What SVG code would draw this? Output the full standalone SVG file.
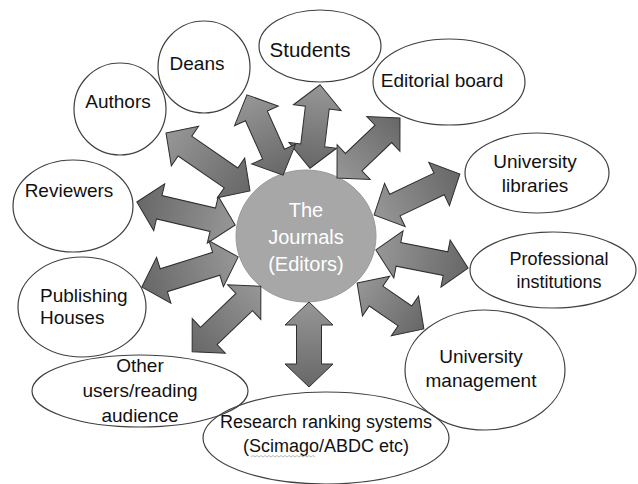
<svg xmlns="http://www.w3.org/2000/svg" width="638" height="484" viewBox="0 0 638 484">
<style>
.n{fill:none;stroke:#404040;stroke-width:1.2}
.t{font-family:"Liberation Sans",Arial,sans-serif;font-size:19px;fill:#111;text-anchor:middle}
.c{font-family:"Liberation Sans",Arial,sans-serif;font-size:20px;fill:#fff;text-anchor:middle}
.a{fill:url(#g);stroke:#2e2e2e;stroke-width:1;stroke-linejoin:miter}
</style>
<defs>
<linearGradient id="g" x1="0" y1="0" x2="1" y2="0">
<stop offset="0" stop-color="#979797"/>
<stop offset="1" stop-color="#676767"/>
</linearGradient>
</defs>
<rect width="638" height="484" fill="#fff"/>
<g id="center">
<ellipse cx="306" cy="236" rx="70" ry="66" fill="#a7a7a7" stroke="#9a9a9a" stroke-width="1"/>
<text class="c" x="306" y="217">The</text>
<text class="c" x="306" y="244">Journals</text>
<text class="c" x="306" y="271">(Editors)</text>
</g>
<g id="connectors">
<path class="a" transform="translate(315,126.5) rotate(96.9)" d="M-42,0 L-19,-24 L-19,-12 L19,-12 L19,-24 L42,0 L19,24 L19,12 L-19,12 L-19,24Z"/>
<path class="a" transform="translate(265,135) rotate(65.8)" d="M-44,0 L-21,-24 L-21,-12 L21,-12 L21,-24 L44,0 L21,24 L21,12 L-21,12 L-21,24Z"/>
<path class="a" transform="translate(208,162) rotate(34.6)" d="M-51,0 L-28,-24 L-28,-12 L28,-12 L28,-24 L51,0 L28,24 L28,12 L-28,12 L-28,24Z"/>
<path class="a" transform="translate(186,213.5) rotate(193.2)" d="M-50.5,0 L-27.5,-24 L-27.5,-12 L27.5,-12 L27.5,-24 L50.5,0 L27.5,24 L27.5,12 L-27.5,12 L-27.5,24Z"/>
<path class="a" transform="translate(190,272) rotate(162.6)" d="M-50.5,0 L-27.5,-24 L-27.5,-12 L27.5,-12 L27.5,-24 L50.5,0 L27.5,24 L27.5,12 L-27.5,12 L-27.5,24Z"/>
<path class="a" transform="translate(226.5,319) rotate(136.3)" d="M-47.5,0 L-24.5,-24 L-24.5,-12 L24.5,-12 L24.5,-24 L47.5,0 L24.5,24 L24.5,12 L-24.5,12 L-24.5,24Z"/>
<path class="a" transform="translate(309,344.5) rotate(90)" d="M-42.5,0 L-19.5,-24 L-19.5,-12.5 L19.5,-12.5 L19.5,-24 L42.5,0 L19.5,24 L19.5,12.5 L-19.5,12.5 L-19.5,24Z"/>
<path class="a" transform="translate(390.5,306) rotate(34.5)" d="M-40.5,0 L-17.5,-24 L-17.5,-12 L17.5,-12 L17.5,-24 L40.5,0 L17.5,24 L17.5,12 L-17.5,12 L-17.5,24Z"/>
<path class="a" transform="translate(422,259) rotate(11.1)" d="M-47,0 L-24,-24 L-24,-12 L24,-12 L24,-24 L47,0 L24,24 L24,12 L-24,12 L-24,24Z"/>
<path class="a" transform="translate(417,194.5) rotate(-25.5)" d="M-47.5,0 L-24.5,-24 L-24.5,-12 L24.5,-12 L24.5,-24 L47.5,0 L24.5,24 L24.5,12 L-24.5,12 L-24.5,24Z"/>
<path class="a" transform="translate(368.5,148) rotate(-43.6)" d="M-43.5,0 L-20.5,-24 L-20.5,-12 L20.5,-12 L20.5,-24 L43.5,0 L20.5,24 L20.5,12 L-20.5,12 L-20.5,24Z"/>
</g>
<g id="students">
<ellipse class="n" cx="320" cy="46" rx="61" ry="36"/>
<text class="t" x="310" y="57" style="font-size:20.5px">Students</text>
</g>
<g id="editorial-board">
<ellipse class="n" cx="449" cy="82" rx="76" ry="43"/>
<text class="t" x="442" y="87">Editorial board</text>
</g>
<g id="deans">
<ellipse class="n" cx="204" cy="67" rx="46" ry="46"/>
<text class="t" x="197" y="70">Deans</text>
</g>
<g id="authors">
<ellipse class="n" cx="120" cy="109" rx="46" ry="46"/>
<text class="t" x="118" y="108">Authors</text>
</g>
<g id="reviewers">
<ellipse class="n" cx="73" cy="206" rx="60" ry="46"/>
<text class="t" x="69" y="197">Reviewers</text>
</g>
<g id="publishing-houses">
<ellipse class="n" cx="82" cy="307" rx="64" ry="50"/>
<text class="t" x="40" y="302" style="text-anchor:start">Publishing</text>
<text class="t" x="40" y="324" style="text-anchor:start">Houses</text>
</g>
<g id="other-users">
<ellipse class="n" cx="140" cy="391" rx="108" ry="36"/>
<text class="t" x="140" y="372">Other</text>
<text class="t" x="140" y="397">users/reading</text>
<text class="t" x="140" y="422">audience</text>
</g>
<g id="research-ranking">
<ellipse class="n" cx="326" cy="438" rx="123" ry="46"/>
<text class="t" x="326" y="428" style="font-size:18px">Research ranking systems</text>
<text class="t" x="326" y="452" style="font-size:18px">(Scimago/ABDC etc)</text>
<path d="M251,457 l2,-1.5 l2,1.5 l2,-1.5 l2,1.5 l2,-1.5 l2,1.5 l2,-1.5 l2,1.5 l2,-1.5 l2,1.5 l2,-1.5 l2,1.5 l2,-1.5 l2,1.5 l2,-1.5 l2,1.5 l2,-1.5 l2,1.5 l2,-1.5 l2,1.5 l2,-1.5 l2,1.5 l2,-1.5 l2,1.5 l2,-1.5 l2,1.5 l2,-1.5 l2,1.5 l2,-1.5 l2,1.5 l2,-1.5 l2,1.5" fill="none" stroke="#aaa" stroke-width="0.8"/>
</g>
<g id="university-management">
<ellipse class="n" cx="485" cy="370" rx="80" ry="60"/>
<text class="t" x="481" y="363">University</text>
<text class="t" x="481" y="387">management</text>
</g>
<g id="professional-institutions">
<ellipse class="n" cx="553" cy="270" rx="83" ry="38"/>
<text class="t" x="559" y="265" style="font-size:18px">Professional</text>
<text class="t" x="559" y="288" style="font-size:18px">institutions</text>
</g>
<g id="university-libraries">
<ellipse class="n" cx="537" cy="173" rx="72" ry="40"/>
<text class="t" x="535" y="168">University</text>
<text class="t" x="535" y="192">libraries</text>
</g>
</svg>
